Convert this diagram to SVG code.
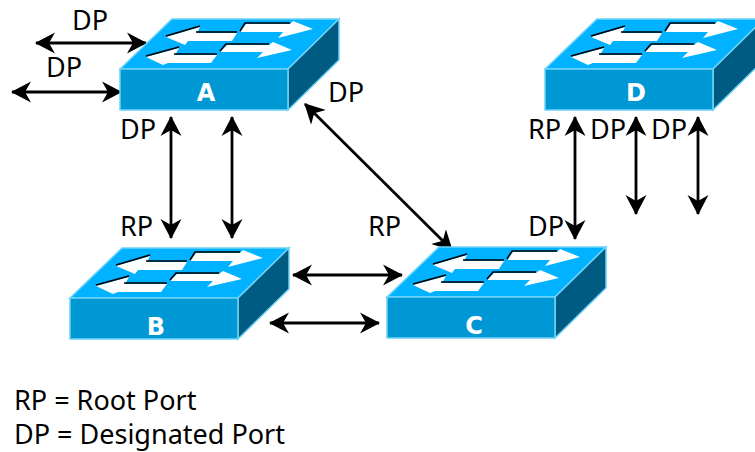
<svg xmlns="http://www.w3.org/2000/svg" xmlns:xlink="http://www.w3.org/1999/xlink" width="755" height="452" viewBox="0 0 755 452">
<style>
text{font-family:"Noto Sans","Open Sans","DejaVu Sans",sans-serif;font-size:27px;fill:#000}
.name{font-family:"DejaVu Sans",sans-serif;font-size:24px;font-weight:bold;fill:#fff;text-anchor:middle}
.link{stroke:#000;stroke-width:2.8;fill:none;marker-start:url(#head);marker-end:url(#head)}
.top{fill:#00b2ff;stroke:#6fd4f7;stroke-width:1.5}
.front{fill:#0098d4;stroke:#6fd4f7;stroke-width:1.5}
.side{fill:#005b82;stroke:#6fd4f7;stroke-width:1.5}
.wa{fill:#fff}
.sh{fill:none;stroke:#000;stroke-width:1.5}
</style>
<defs>
<marker id="head" markerUnits="userSpaceOnUse" markerWidth="22" markerHeight="22" refX="19" refY="10.5" orient="auto-start-reverse" viewBox="0 0 22 21">
<path d="M0 0L20 10.5L0 21L6 10.5Z" fill="#000"/>
</marker>
<g id="sw">
<path class="top" d="M0 0L52-50H219L168 0Z"/>
<path class="side" d="M168 0L219-50V-9L168 41Z"/>
<rect class="front" x="0" y="0" width="168" height="41"/>
<path class="wa" d="M46-32L80-42L77-36H117L112-28H68L65-24Z"/>
<path class="sh" d="M46-33L80-43M76-37H117"/>
<path class="wa" d="M121-38L126-45H170L173-48L193-40L158-31L163-37H121Z"/>
<path class="sh" d="M120-38L125-46H170"/>
<path class="wa" d="M26-12L59-21L55-14H97L91-6H48L43-4Z"/>
<path class="sh" d="M26-13L59-22M54-15H97"/>
<path class="wa" d="M101-18L107-24H149L153-27L172-19L137-11L143-17H101Z"/>
<path class="sh" d="M100-18L106-25H149"/>
</g>
</defs>
<g id="connectors">
<line class="link" x1="36" y1="43" x2="146" y2="43"/>
<line class="link" x1="12" y1="92" x2="121" y2="92"/>
<line class="link" x1="171" y1="117" x2="171" y2="238"/>
<line class="link" x1="232" y1="117" x2="232" y2="238"/>
<line class="link" x1="305" y1="104" x2="452" y2="250"/>
<line class="link" x1="293" y1="275" x2="402" y2="275"/>
<line class="link" x1="270" y1="323" x2="379" y2="323"/>
<line class="link" x1="575" y1="117" x2="575" y2="239"/>
<line class="link" x1="636" y1="117" x2="636" y2="214"/>
<line class="link" x1="698" y1="117" x2="698" y2="214"/>
</g>
<g id="node-a"><use xlink:href="#sw" href="#sw" x="120" y="69"/><text class="name" x="206" y="101">A</text></g>
<g id="node-b"><use xlink:href="#sw" href="#sw" x="70" y="298"/><text class="name" x="156" y="335">B</text></g>
<g id="node-c"><use xlink:href="#sw" href="#sw" x="387" y="297"/><text class="name" x="474" y="334">C</text></g>
<g id="node-d"><use xlink:href="#sw" href="#sw" x="545" y="69"/><text class="name" x="636" y="101">D</text></g>
<g id="labels">
<text x="72" y="30">DP</text>
<text x="46" y="77">DP</text>
<text x="120" y="139">DP</text>
<text x="120" y="236">RP</text>
<text x="328" y="102">DP</text>
<text x="368" y="236">RP</text>
<text x="528" y="236">DP</text>
<text x="528" y="139">RP</text>
<text x="590" y="139">DP</text>
<text x="651" y="139">DP</text>
<text x="14" y="410">RP = Root Port</text>
<text x="14" y="444">DP = Designated Port</text>
</g>
</svg>
